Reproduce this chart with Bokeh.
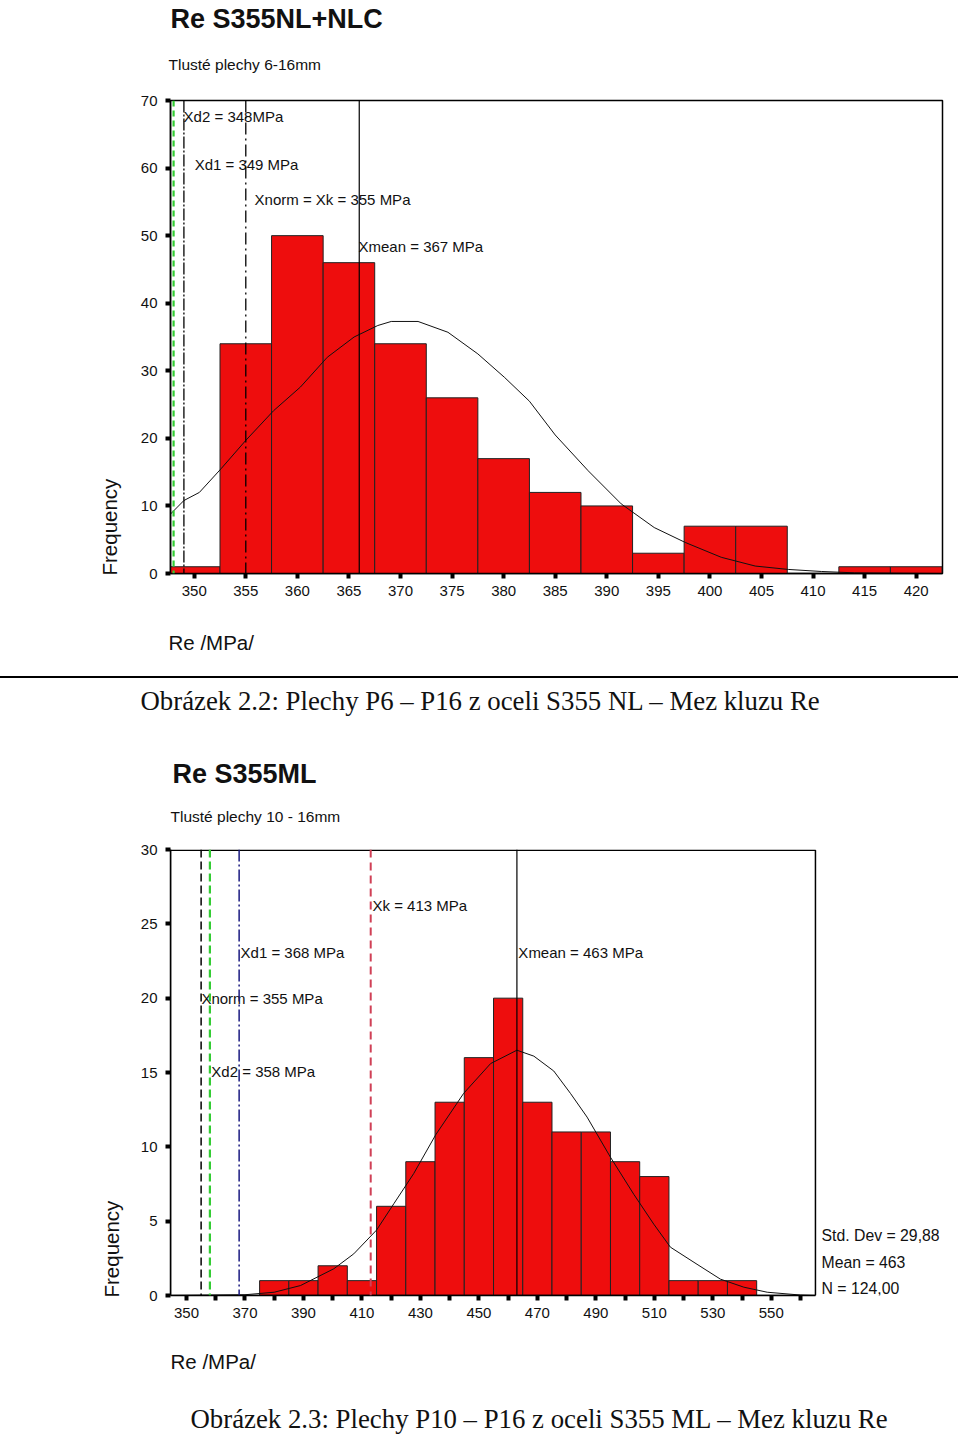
from bokeh.plotting import figure
from bokeh.models import Label, FixedTicker, BoxAnnotation, Span, Range1d, Title, Div
from bokeh.layouts import column
from bokeh.embed import file_html
from bokeh.resources import INLINE
from bokeh.core.properties import value

# ---------------- data: top chart (Re S355NL+NLC) ----------------
top_bin_centers = [350, 355, 360, 365, 370, 375, 380, 385, 390, 395, 400, 405, 410, 415, 420]
top_counts      = [1, 34, 50, 46, 34, 26, 17, 12, 10, 3, 7, 7, 0, 1, 1]
top_bin_width = 5
top_curve_x = [347.7, 349.0, 350.5, 352.6, 355.0, 357.7, 360.3, 362.9, 365.5, 367.8, 369.1,
               371.7, 374.6, 377.5, 380.1, 382.5, 385.0, 388.2, 391.4, 394.6, 397.6, 401.1,
               404.4, 407.6, 410.8, 414.0, 422.5]
top_curve_y = [8.8, 10.8, 12.0, 15.5, 19.7, 24.1, 27.6, 32.0, 35.0, 36.7, 37.3,
               37.3, 35.7, 32.5, 29.0, 25.5, 20.5, 15.2, 10.3, 6.8, 4.6, 2.4,
               1.1, 0.6, 0.3, 0.1, 0.0]
top_x_ticks = [350, 355, 360, 365, 370, 375, 380, 385, 390, 395, 400, 405, 410, 415, 420]
top_y_ticks = [0, 10, 20, 30, 40, 50, 60, 70]
top_vlines = [348, 349, 355, 366]
top_vline_labels = ["Xd2 = 348MPa", "Xd1 = 349 MPa", "Xnorm = Xk = 355 MPa", "Xmean = 367 MPa"]

# ---------------- data: bottom chart (Re S355ML) ----------------
bot_bin_centers = [380, 390, 400, 410, 420, 430, 440, 450, 460, 470, 480, 490, 500, 510, 520, 530, 540]
bot_counts      = [1, 1, 2, 1, 6, 9, 13, 16, 20, 13, 11, 11, 9, 8, 1, 1, 1]
bot_bin_width = 10
bot_curve_x = [345, 370, 380, 389, 400.4, 407.2, 415, 421, 427.7, 435.2, 444.8, 454, 463,
               468.8, 475.6, 481.3, 487, 495, 503, 509.8, 515.5, 524.6, 532.6, 540.6, 548.6, 560, 565]
bot_curve_y = [0.0, 0.05, 0.22, 0.67, 1.8, 2.8, 4.4, 6.2, 8.2, 10.8, 13.6, 15.6, 16.5,
               16.1, 15.1, 13.6, 12.0, 9.3, 6.8, 4.8, 3.25, 2.1, 1.1, 0.56, 0.22, 0.03, 0.0]
bot_x_ticks = [350, 370, 390, 410, 430, 450, 470, 490, 510, 530, 550]
bot_x_minor = [360, 380, 400, 420, 440, 460, 480, 500, 520, 540, 560]
bot_y_ticks = [0, 5, 10, 15, 20, 25, 30]
bot_x_start, bot_x_end = 344.53, 565.1
bot_vlines = [355, 358, 368, 413, 463]
bot_vline_labels = ["Xnorm = 355 MPa", "Xd2 = 358 MPa", "Xd1 = 368 MPa", "Xk = 413 MPa", "Xmean = 463 MPa"]
bot_stats = ["Std. Dev = 29,88", "Mean = 463", "N = 124,00"]

caption_top = "Obrázek 2.2: Plechy P6 – P16 z oceli S355 NL – Mez kluzu Re"
caption_bot = "Obrázek 2.3: Plechy P10 – P16 z oceli S355 ML – Mez kluzu Re"

SANS = "Liberation Sans"
SERIF = "Liberation Serif"
METRICS = {SANS: (0.905, 0.212), SERIF: (0.891, 0.216)}
BAR_RED = "#ee0d0d"
W = 958
FL, FR = 170, 942             # frame left/right (canvas px), shared by both figures
H1 = 676                      # top figure ends where the rule starts
HR = 2                        # rule thickness
H2 = 1440 - H1 - HR


def th(fs, font):
    a, d = METRICS[font]
    return (a + d) * fs


def spacer(p, side, gap):
    p.add_layout(Title(text=" ", text_font_size="1px", standoff=max(gap - 3.1, 0)), side)


def title(p, side, text, fs, font=SANS, bold=False, valign="bottom", align="left", offset=0):
    p.add_layout(Title(text=text, text_font=font, text_font_size=f"{fs}px",
                       text_font_style="bold" if bold else "normal", text_color="#111111",
                       align=align, offset=offset, standoff=0, vertical_align=valign), side)


def stack_above(p, frame_top, items):
    """items: (text, baseline_y, font_size, font, bold, x_left) from the frame outward"""
    cur = frame_top
    for text, base, fs, font, bold, xl in items:
        a, d = METRICS[font]
        box_bottom = base + d * fs
        spacer(p, "above", cur - box_bottom)
        title(p, "above", text, fs, font, bold, valign="bottom", offset=xl - FL)
        cur = box_bottom - th(fs, font) - 2


def stack_below(p, axis_bottom, items):
    cur = axis_bottom
    for text, base, fs, font, bold, xl in items:
        a, d = METRICS[font]
        box_top = base - a * fs
        spacer(p, "below", box_top - cur)
        title(p, "below", text, fs, font, bold, valign="top", offset=xl - FL)
        cur = box_top + th(fs, font) + 2


def frequency_left(p, frame_bottom, center_x, start_y, fs=20.5):
    axis_left = FL - (5 + 8 + 2 * 0.556 * 15)
    text_right = center_x + th(fs, SANS) / 2
    spacer(p, "left", axis_left - text_right)
    title(p, "left", "Frequency", fs, SANS, valign="bottom", align="left", offset=frame_bottom - start_y)


def style_axes(p, xticker, yticks):
    p.xgrid.visible = False
    p.ygrid.visible = False
    p.xaxis.ticker = xticker
    p.yaxis.ticker = FixedTicker(ticks=yticks)
    for ax in (p.xaxis[0], p.yaxis[0]):
        ax.axis_line_color = "black"
        ax.axis_line_width = 1.5
        ax.major_tick_line_color = "black"
        ax.major_tick_line_width = 4
        ax.major_tick_out = 5
        ax.major_tick_in = 0
        ax.minor_tick_line_color = "black"
        ax.minor_tick_line_width = 4
        ax.minor_tick_out = 5
        ax.minor_tick_in = 0
        ax.major_label_text_font = SANS
        ax.major_label_text_font_size = "15px"
        ax.major_label_text_color = "#111111"
    p.xaxis.major_label_standoff = 7
    p.yaxis.major_label_standoff = 8


XAXIS_H = 5 + 7 + th(15, SANS)

# ================= top figure =================
F1_TOP, F1_BOT = 100, 573
p1 = figure(width=W, height=H1, output_backend="svg", toolbar_location=None,
            x_range=Range1d(347.7, 422.55), y_range=Range1d(0, 70))
p1.min_border_left = FL
p1.min_border_right = W - FR
p1.min_border_top = F1_TOP
p1.min_border_bottom = H1 - F1_BOT
style_axes(p1, FixedTicker(ticks=top_x_ticks), top_y_ticks)
p1.outline_line_color = "black"
p1.outline_line_width = 1.5

p1.quad(left=[c - top_bin_width / 2 for c in top_bin_centers],
        right=[c + top_bin_width / 2 for c in top_bin_centers],
        bottom=[0] * len(top_counts), top=top_counts,
        fill_color=BAR_RED, line_color="#222222", line_width=1)

p1.text(x=[348.97, 350.04, 355.85, 365.93], y=[67.7, 60.5, 55.3, 48.4], text=top_vline_labels,
        text_font=value(SANS), text_font_size="15px", text_color="#111111",
        text_align="left", text_baseline="middle")

p1.line(top_curve_x, top_curve_y, line_color="#111111", line_width=1)

top_line_styles = [("#33cc33", "6 4", 2.2), ("black", "12 2 2 2", 1.3),
                   ("black", "12 4 2 4", 1.3), ("black", "solid", 1.2)]
for loc, (col, dash, w) in zip(top_vlines, top_line_styles):
    p1.add_layout(Span(location=loc, dimension="height", line_color=col,
                       line_dash=dash, line_width=w))

stack_above(p1, F1_TOP, [("Tlusté plechy 6-16mm", 69, 15.5, SANS, False, 168),
                         ("Re S355NL+NLC", 27, 27, SANS, True, 170)])
stack_below(p1, F1_BOT + XAXIS_H, [("Re /MPa/", 652, 20.5, SANS, False, 168)])
frequency_left(p1, F1_BOT, 112, 575)

# ================= horizontal rule between the two figures =================
rule = Div(text="", width=W, height=HR, margin=(0, 0, 0, 0),
           styles={"background-color": "black", "padding": "0", "margin": "0"})

# ================= bottom figure =================
OFF2 = H1 + HR                      # page y of this canvas' top
F2_TOP, F2_BOT = 849 - OFF2, 1295 - OFF2
p2 = figure(width=W, height=H2, output_backend="svg", toolbar_location=None,
            x_range=Range1d(bot_x_start, 608.55), y_range=Range1d(0, 30))
p2.min_border_left = FL
p2.min_border_right = W - FR
p2.min_border_top = F2_TOP
p2.min_border_bottom = H2 - F2_BOT
style_axes(p2, FixedTicker(ticks=bot_x_ticks, minor_ticks=bot_x_minor), bot_y_ticks)
p2.outline_line_color = None
p2.xaxis.bounds = (bot_x_start, bot_x_end)
p2.add_layout(BoxAnnotation(left=bot_x_start, right=bot_x_end, bottom=0, top=29.95,
                            fill_color=None, fill_alpha=0, line_color="black",
                            line_alpha=1, line_width=1.5))

p2.quad(left=[c - bot_bin_width / 2 for c in bot_bin_centers],
        right=[c + bot_bin_width / 2 for c in bot_bin_centers],
        bottom=[0] * len(bot_counts), top=bot_counts,
        fill_color=BAR_RED, line_color="#222222", line_width=1)

p2.text(x=[355.1, 358.5, 368.5, 413.6, 463.5], y=[20.0, 15.05, 23.1, 26.2, 23.1], text=bot_vline_labels,
        text_font=value(SANS), text_font_size="15px", text_color="#111111",
        text_align="left", text_baseline="middle")

p2.line(bot_curve_x, bot_curve_y, line_color="#111111", line_width=1)

bot_line_styles = [("black", "8 4", 1.5), ("#33cc33", "8 4", 2.2), ("#1a1a80", "12 3 2 3", 1.5),
                   ("#d04056", "8 5", 2.0), ("black", "solid", 1.2)]
for loc, (col, dash, w) in zip(bot_vlines, bot_line_styles):
    p2.add_layout(Span(location=loc, dimension="height", line_color=col,
                       line_dash=dash, line_width=w))

for i, s in enumerate(bot_stats):
    p2.add_layout(Label(x=bot_x_start + (821 - FL) / 2.924, y=(1295 - 1235 - 26.5 * i) / 14.87,
                        text=s, text_font=SANS, text_font_size="15.8px", text_color="#111111",
                        text_align="left", text_baseline="alphabetic"))

stack_above(p2, F2_TOP, [("Tlusté plechy 10 - 16mm", 821 - OFF2, 15.5, SANS, False, 170),
                         ("Re S355ML", 782 - OFF2, 27, SANS, True, 172),
                         (caption_top, 709 - OFF2, 26.8, SERIF, False, 140)])
stack_below(p2, F2_BOT + XAXIS_H, [("Re /MPa/", 1371 - OFF2, 20.5, SANS, False, 170),
                                   (caption_bot, 1430 - OFF2, 26.8, SERIF, False, 190)])
frequency_left(p2, F2_BOT, 114, 1297 - OFF2)

layout = column(p1, rule, p2, spacing=0)
open("out.html", "w").write(file_html(layout, INLINE))
